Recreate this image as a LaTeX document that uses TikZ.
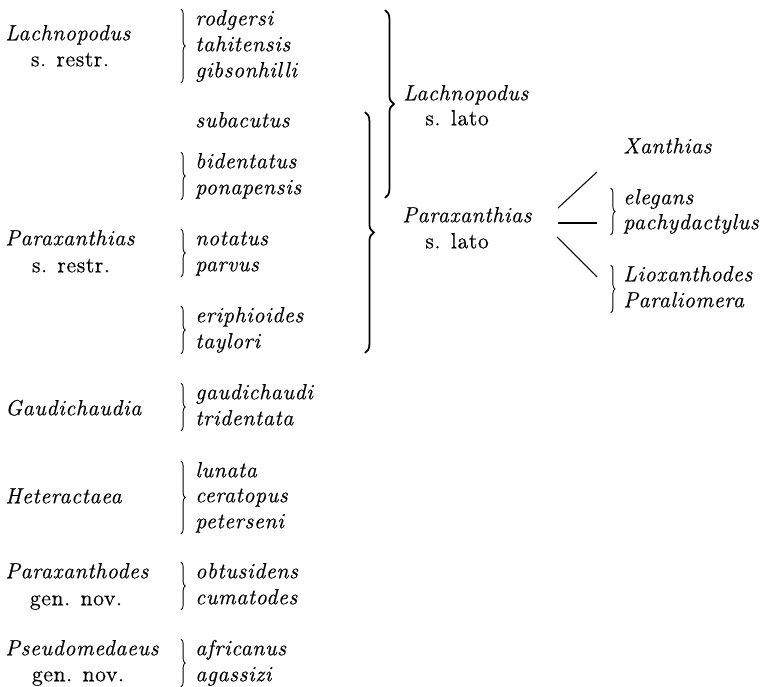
\documentclass[tikz,border=0pt]{standalone}
\usepackage{fontspec}
\setmainfont{Latin Modern Roman}[LetterSpace=3,FakeBold=0.6]
\usetikzlibrary{decorations.pathreplacing}

\tikzset{
  lbl/.style={inner sep=0pt, text height=9pt, text depth=3pt, font=\fontsize{12.5}{15}\selectfont},
  taxon/.style={lbl, font=\fontsize{12.5}{15}\selectfont\itshape},
  sp/.style={taxon, anchor=west},
  grp/.style={decorate, decoration={brace, amplitude=2.5pt}, line width=0.5pt},
  bigbrace/.style={decorate, decoration={brace, amplitude=5pt}, line width=1pt},
  fork/.style={line width=0.6pt}
}

\begin{document}
\begin{tikzpicture}[x=0.02cm, y=-0.02cm]
    \useasboundingbox (0,0) rectangle (767,686);

    \node[taxon, anchor=west] (lachr) at (5,35) {Lachnopodus};
    \node[lbl] (lachrs) at (70,61) {s. restr.};
    \node[taxon, anchor=west] (parr) at (5,240) {Paraxanthias};
    \node[lbl] (parrs) at (71,267) {s. restr.};
    \node[taxon, anchor=west] (gaudg) at (5,410) {Gaudichaudia};
    \node[taxon, anchor=west] (hete) at (5,498) {Heteractaea};
    \node[taxon, anchor=west] (parxd) at (5,573) {Paraxanthodes};
    \node[lbl] (parxdn) at (76,600) {gen. nov.};
    \node[taxon, anchor=west] (pseu) at (5,650) {Pseudomedaeus};
    \node[lbl] (pseun) at (78,676) {gen. nov.};

    \node[sp] (rodg) at (195,20) {rodgersi};
    \node[sp] (tahi) at (195,46) {tahitensis};
    \node[sp] (gibs) at (195,72) {gibsonhilli};
    \node[sp] (suba) at (195,122) {subacutus};
    \node[sp] (bide) at (195,163) {bidentatus};
    \node[sp] (pona) at (195,189) {ponapensis};
    \node[sp] (nota) at (195,240) {notatus};
    \node[sp] (parv) at (195,266) {parvus};
    \node[sp] (erip) at (195,317) {eriphioides};
    \node[sp] (tayl) at (195,343) {taylori};
    \node[sp] (gaud) at (195,394) {gaudichaudi};
    \node[sp] (trid) at (195,420) {tridentata};
    \node[sp] (luna) at (195,472) {lunata};
    \node[sp] (cera) at (195,497) {ceratopus};
    \node[sp] (pete) at (195,523) {peterseni};
    \node[sp] (obtu) at (195,573) {obtusidens};
    \node[sp] (cuma) at (195,599) {cumatodes};
    \node[sp] (afri) at (195,650) {africanus};
    \node[sp] (agas) at (195,676) {agassizi};

    \draw[grp] ([xshift=-8pt]rodg.north west) -- ([xshift=-8pt]gibs.south west);
    \draw[grp] ([xshift=-8pt]bide.north west) -- ([xshift=-8pt]pona.south west);
    \draw[grp] ([xshift=-8pt]nota.north west) -- ([xshift=-8pt]parv.south west);
    \draw[grp] ([xshift=-8pt]erip.north west) -- ([xshift=-8pt]tayl.south west);
    \draw[grp] ([xshift=-8pt]gaud.north west) -- ([xshift=-8pt]trid.south west);
    \draw[grp] ([xshift=-8pt]luna.north west) -- ([xshift=-8pt]pete.south west);
    \draw[grp] ([xshift=-8pt]obtu.north west) -- ([xshift=-8pt]cuma.south west);
    \draw[grp] ([xshift=-8pt]afri.north west) -- ([xshift=-8pt]agas.south west);

    \coordinate (lachtop) at (385,10);
    \coordinate (lachbot) at (385,198);
    \coordinate (partop) at (365,112);
    \coordinate (parbot) at (365,353);
    \draw[bigbrace] (lachtop) -- (lachbot);
    \draw[bigbrace] (partop) -- (parbot);

    \node[sp] (lachl) at (403,95) {Lachnopodus};
    \node[lbl, anchor=west] (lachls) at (425,120) {s. lato};
    \node[sp] (parl) at (402,217) {Paraxanthias};
    \node[lbl, anchor=west] (parls) at (425,243) {s. lato};

    \node[sp] (xant) at (623,148) {Xanthias};
    \node[sp] (eleg) at (623,199) {elegans};
    \node[sp] (pach) at (623,224) {pachydactylus};
    \node[sp] (liox) at (623,276) {Lioxanthodes};
    \node[sp] (pali) at (623,302) {Paraliomera};

    \draw[grp] ([xshift=-7pt]eleg.north west) -- ([xshift=-7pt]pach.south west);
    \draw[grp] ([xshift=-7pt]liox.north west) -- ([xshift=-7pt]pali.south west);

    \coordinate (fa) at (558,208);
    \coordinate (fb) at (558,223);
    \coordinate (fc) at (557,237);
    \coordinate (ta) at (597,172);
    \coordinate (tb) at (597,223);
    \coordinate (tc) at (597,277);
    \draw[fork] (fa) -- (ta);
    \draw[fork] (fb) -- (tb);
    \draw[fork] (fc) -- (tc);
\end{tikzpicture}
\end{document}
